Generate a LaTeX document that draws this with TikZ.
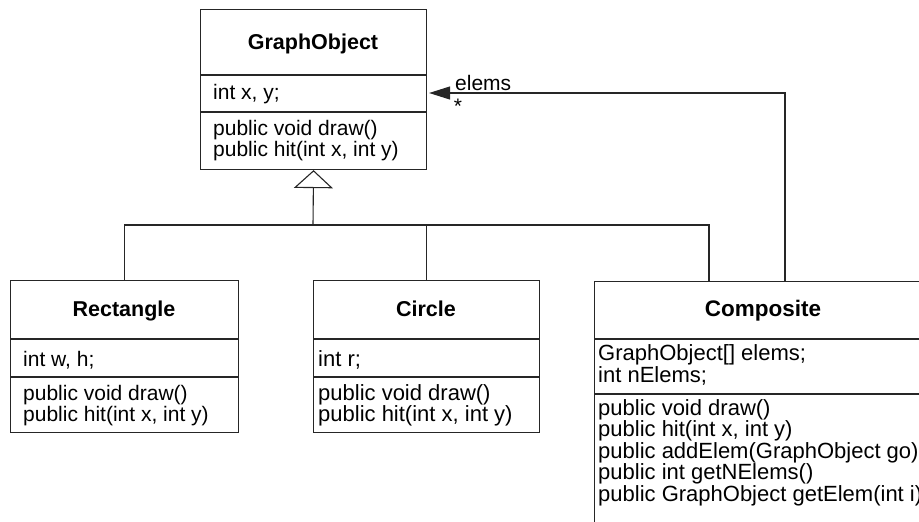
\documentclass[tikz,border=0pt]{standalone}
\usepackage{fontspec}
\setmainfont{Liberation Sans}
\usetikzlibrary{arrows.meta,calc}
\begin{document}
\begin{tikzpicture}[x=1pt,y=-1pt,
  umlline/.style={draw=black!85, line width=1.1pt},
  classbox/.style={umlline, rectangle, inner sep=0pt, anchor=north west},
  ctitle/.style={font=\fontsize{#1}{#1}\selectfont\bfseries, inner sep=0pt, anchor=base},
  ctitle/.default=21.5,
  member/.style={font=\fontsize{#1}{#1}\selectfont, inner sep=0pt, anchor=base west},
  member/.default=21,
  generalization/.style={umlline, -{Triangle[open, length=18pt, width=39pt]}},
  association/.style={umlline, -{Triangle[length=21pt, width=13pt]}}]
\useasboundingbox (0,0) rectangle (919,522);
\clip (0,0) rectangle (919,522);

% GraphObject
\node[classbox, minimum width=226pt, minimum height=160pt] (go) at (200,9) {};
\draw[umlline] ($(go.north west)+(0,66)$) -- ($(go.north east)+(0,66)$);
\draw[umlline] ($(go.north west)+(0,103)$) -- ($(go.north east)+(0,103)$);
\node[ctitle] (goT) at (313,49.5) {GraphObject};
\node[member] (goA1) at (213,99.5) {int x, y;};
\node[member] (goM1) at (213,135) {public void draw()};
\node[member] (goM2) at (213,156.5) {public hit(int x, int y)};

% Rectangle
\node[classbox, minimum width=228pt, minimum height=152pt] (rect) at (10,280) {};
\draw[umlline] ($(rect.north west)+(0,59)$) -- ($(rect.north east)+(0,59)$);
\draw[umlline] ($(rect.north west)+(0,97)$) -- ($(rect.north east)+(0,97)$);
\node[ctitle] (rectT) at (124,316.5) {Rectangle};
\node[member] (rectA1) at (23,366) {int w, h;};
\node[member] (rectM1) at (23,400) {public void draw()};
\node[member] (rectM2) at (23,421) {public hit(int x, int y)};

% Circle
\node[classbox, minimum width=226pt, minimum height=152pt] (circ) at (313,280) {};
\draw[umlline] ($(circ.north west)+(0,59)$) -- ($(circ.north east)+(0,59)$);
\draw[umlline] ($(circ.north west)+(0,97)$) -- ($(circ.north east)+(0,97)$);
\node[ctitle] (circT) at (426,316.5) {Circle};
\node[member=22] (circA1) at (318,366) {int r;};
\node[member=22] (circM1) at (318,400) {public void draw()};
\node[member=22] (circM2) at (318,421) {public hit(int x, int y)};

% Composite
\node[classbox, minimum width=338pt, minimum height=262pt] (comp) at (594,281) {};
\draw[umlline] ($(comp.north west)+(0,58)$) -- ($(comp.north east)+(0,58)$);
\draw[umlline] ($(comp.north west)+(0,113)$) -- ($(comp.north east)+(0,113)$);
\node[ctitle=22.5] (compT) at (763,316.5) {Composite};
\node[member=22] (compA1) at (598,360) {GraphObject[] elems;};
\node[member=22] (compA2) at (598,382) {int nElems;};
\node[member=22] (compM1) at (598,415) {public void draw()};
\node[member=22] (compM2) at (598,436.5) {public hit(int x, int y)};
\node[member=22] (compM3) at (598,458) {public addElem(GraphObject go)};
\node[member=22] (compM4) at (598,479.5) {public int getNElems()};
\node[member=22] (compM5) at (598,501) {public GraphObject getElem(int i)};

% inheritance tree
\coordinate (bus) at (313,225);
\coordinate (compIn) at ($(comp.north west)+(115,0)$);
\draw[generalization] (bus) -- (go.south);
\draw[umlline] (rect.north) |- (bus) -| (circ.north);
\draw[umlline] (bus) -| (compIn);

% aggregation of elements
\coordinate (compOut) at ($(comp.north west)+(191,0)$);
\coordinate (goIn) at ($(go.north east)+(2,84)$);
\draw[association] (compOut) |- (goIn);
\node[member] (lblElems) at (455,90) {elems};
\node[font=\fontsize{21}{21}\selectfont, inner sep=0pt] (lblMult) at (458,106) {*};
\end{tikzpicture}
\end{document}
